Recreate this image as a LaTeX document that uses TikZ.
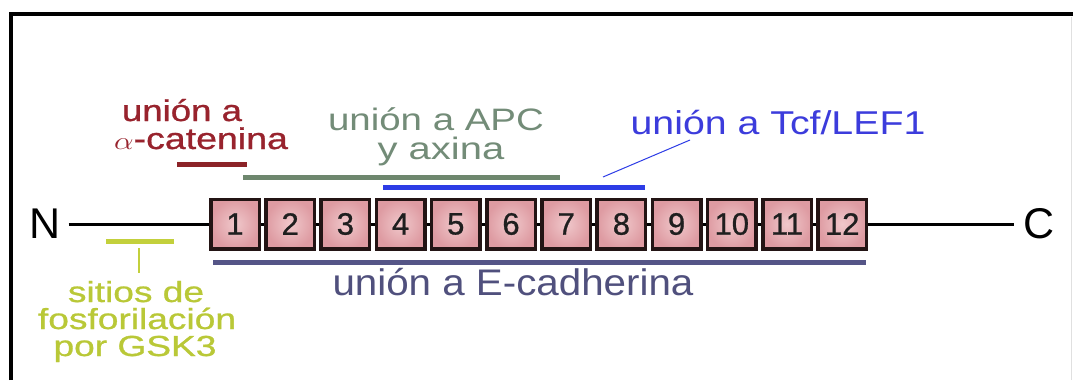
\documentclass[tikz,border=0pt]{standalone}
\usepackage{fontspec}
\setmainfont{Liberation Sans}
\newfontfamily\heavy[FakeBold=0.8]{Liberation Sans}
\usepackage{graphicx}
\definecolor{redtxt}{RGB}{152,35,45}
\definecolor{redbar}{RGB}{140,35,40}
\definecolor{greentxt}{RGB}{115,140,120}
\definecolor{greenbar}{RGB}{110,135,110}
\definecolor{bluetxt}{RGB}{60,60,220}
\definecolor{bluebar}{RGB}{45,60,230}
\definecolor{yeltxt}{RGB}{185,200,55}
\definecolor{yelbar}{RGB}{195,208,60}
\definecolor{slatetxt}{RGB}{80,80,125}
\definecolor{slatebar}{RGB}{85,85,135}
\definecolor{boxin}{RGB}{240,200,203}
\definecolor{boxout}{RGB}{222,155,162}
\definecolor{boxline}{RGB}{35,20,20}
\newcommand{\xstr}[2]{\scalebox{#1}[1]{#2}}
\tikzset{
  lab/.style={inner sep=0pt, anchor=base},
  seg/.style={draw=boxline, line width=3.5pt, minimum width=48.5pt, minimum height=49.5pt,
              inner sep=0pt, shading=radial, inner color=boxin, outer color=boxout,
              text=black!88, font=\heavy\fontsize{31}{31}\selectfont},
  bar/.style={line width=5pt},
  axis/.style={line width=3pt, black},
  term/.style={inner sep=0pt, font=\fontsize{43}{43}\selectfont}
}
\begin{document}
\begin{tikzpicture}[x=1pt,y=-1pt]
\useasboundingbox (0,0) rectangle (1073,380);
\fill[white] (0,0) rectangle (1073,380);
% frame
\draw[line width=4pt, black] (11,380) -- (11,14) -- (1073,14);
\draw[line width=1pt, black!12] (1071,17) -- (1071,380);

% segments
\foreach \i in {1,...,12} {
  \node[seg] (b\i) at ({235+(\i-1)*55.2},224) {\i};
}
\foreach \i [evaluate=\i as \j using int(\i+1)] in {1,...,11} {
  \draw[axis] (b\i.east) -- (b\j.west);
}

% termini
\node[term] (N) at (45,224) {N};
\node[term] (C) at (1039,224) {C};
\draw[axis] ([xshift=8pt]N.east) -- (b1.west);
\draw[axis] (b12.east) -- ([xshift=-9pt]C.west);

% bars
\draw[bar, redbar] (177,164) -- (247,164);
\draw[bar, greenbar] (243,177) -- (560,177);
\draw[bar, bluebar] (383,187) -- (645,187);
\draw[bar, yelbar] (106,241) -- (174,241);
\draw[bar, slatebar] (213,262) -- (866,262);

% leaders
\coordinate (blstart) at (603,177);
\coordinate (blend) at (690,140);
\draw[bluebar, line width=1pt] (blstart) -- (blend);
\coordinate (ytop) at (139,248);
\coordinate (ybot) at (139,273);
\draw[yelbar, line width=1.5pt] (ytop) -- (ybot);

% labels
\node[lab, text=redtxt, font=\heavy\fontsize{30}{30}\selectfont] (ra1) at (182,121) {\xstr{1.22}{unión a}};
\node[lab, text=redtxt, font=\heavy\fontsize{30}{30}\selectfont] (ra2) at (201,149) {\xstr{1.25}{$\alpha$-catenina}};
\node[lab, text=greentxt, font=\fontsize{31}{31}\selectfont] (g1) at (436,130) {\xstr{1.24}{unión a APC}};
\node[lab, text=greentxt, font=\fontsize{31}{31}\selectfont] (g2) at (441,159) {\xstr{1.29}{y axina}};
\node[lab, text=bluetxt, font=\fontsize{33}{33}\selectfont] (bl) at (778,134) {\xstr{1.19}{unión a Tcf/LEF1}};
\node[lab, text=slatetxt, font=\fontsize{37}{37}\selectfont] (ec) at (513,295) {\xstr{1.09}{unión a E-cadherina}};
\node[lab, text=yeltxt, font=\heavy\fontsize{29}{29}\selectfont] (y1) at (136,302) {\xstr{1.28}{sitios de}};
\node[lab, text=yeltxt, font=\heavy\fontsize{29}{29}\selectfont] (y2) at (137,329) {\xstr{1.28}{fosforilación}};
\node[lab, text=yeltxt, font=\heavy\fontsize{29}{29}\selectfont] (y3) at (135,356) {\xstr{1.28}{por GSK3}};
\end{tikzpicture}
\end{document}
